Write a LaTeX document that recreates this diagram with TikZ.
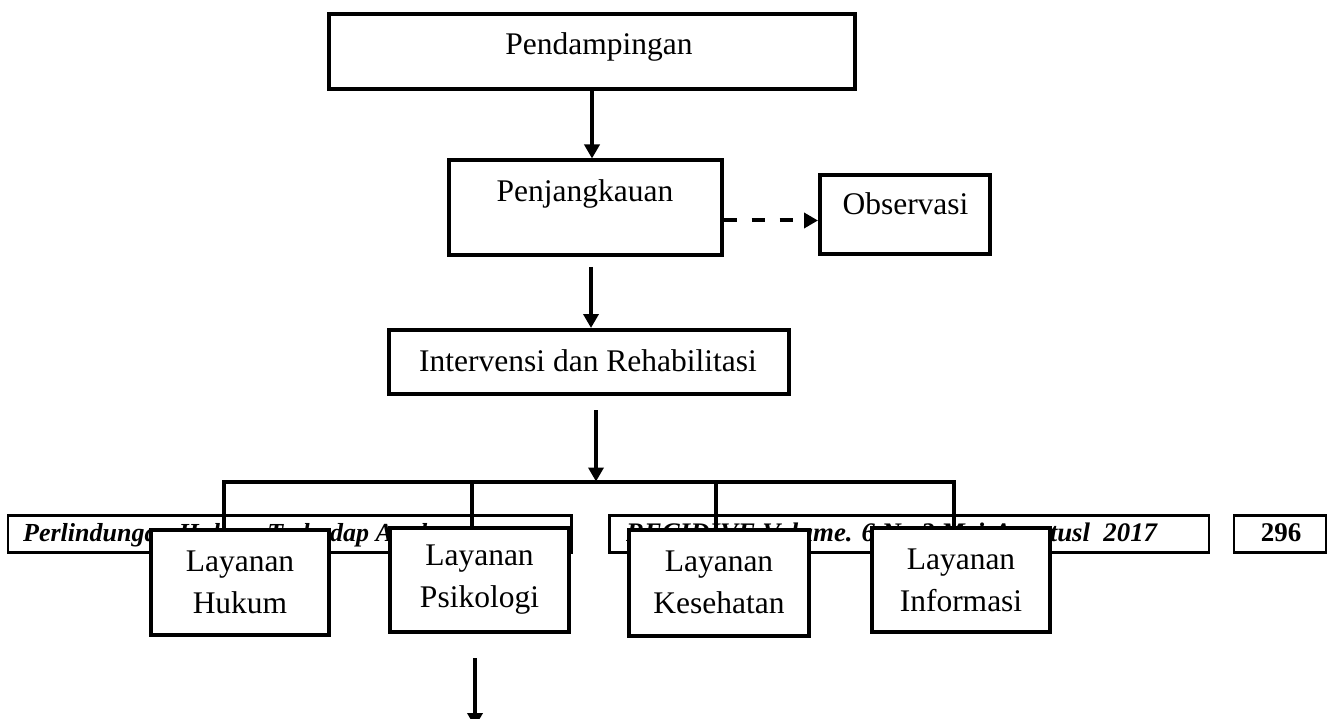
\documentclass[tikz,border=0pt]{standalone}
\usepackage{fontspec}
\setmainfont{Liberation Serif}
\usetikzlibrary{arrows.meta}
\newcommand{\mainsz}{\fontsize{31.5}{42}\selectfont}
\newcommand{\footsz}{\fontsize{26}{30}\selectfont\bfseries\itshape}
\newcommand{\footszb}{\fontsize{26.8}{30}\selectfont\bfseries\itshape}
\begin{document}
\begin{tikzpicture}[x=1pt,y=-1pt,
  box/.style={draw, line width=4pt, fill=white, inner sep=0pt},
  lbl/.style={font=\mainsz, anchor=base, inner sep=0pt},
  conn/.style={line width=4pt},
  arr/.style={conn, -{Triangle[length=14pt,width=15pt]}},
  dasharr/.style={arr, dash pattern=on 13pt off 15pt},
  footbox/.style={draw, line width=2.5pt, inner sep=0pt},
  foottext/.style={font=\footsz, anchor=base west, inner sep=0pt},
]
\fill[white] (0,0) rectangle (1338,719);
\useasboundingbox (0,0) rectangle (1338,719);
\clip (0,0) rectangle (1338,719);

% footer
\node[footbox, minimum width=563.5pt, minimum height=37pt] (f1) at (289.75,534) {};
\node[footbox, minimum width=599.5pt, minimum height=37pt] (f2) at (909.25,534) {};
\node[footbox, minimum width=92pt, minimum height=37pt] (f3) at (1280,534) {};
\node[foottext] (f1t) at (23,541) {Perlindungan Hukum Terhadap Anak};
\node[foottext, font=\footszb] (f2t) at (626,541) {RECIDIVE Volume. 6 No.3 Mei-Agustusl\ \ 2017};
\node[font=\fontsize{27}{30}\selectfont\bfseries, anchor=base, inner sep=0pt] (f3t) at (1281,541) {296};

% main boxes
\node[box, minimum width=526pt, minimum height=75pt] (pend) at (592,52) {};
\node[lbl] (pendt) at (599,55) {Pendampingan};
\node[box, minimum width=273pt, minimum height=94.5pt] (penj) at (585,207.75) {};
\node[lbl] (penjt) at (585,202) {Penjangkauan};
\node[box, minimum width=170pt, minimum height=78.5pt] (obs) at (905,214.75) {};
\node[lbl] (obst) at (905.5,215) {Observasi};
\node[box, minimum width=399.5pt, minimum height=64pt] (interv) at (588.75,362) {};
\node[lbl] (intervt) at (588,371) {Intervensi dan Rehabilitasi};

% connectors top
\draw[arr] (pend.south) -- (penj.north -| pend.south);
\coordinate (dy) at (0,220.5);
\draw[dasharr] (penj.east |- dy) -- (obs.west |- dy);
\coordinate (s2) at (591,267);
\draw[arr] (s2) -- (s2 |- interv.north);
\coordinate (s3) at (596,410);
\coordinate (br) at (596,481.5);
\draw[arr] (s3) -- (br);

% branch coordinates
\coordinate (b1) at (224,481.5);
\coordinate (b2) at (472,481.5);
\coordinate (b3) at (716,481.5);
\coordinate (b4) at (953.5,481.5);

% layanan boxes
\node[box, minimum width=178pt, minimum height=105pt, align=center, font=\mainsz] (hukum) at (240,582.5) {Layanan\\Hukum};
\node[box, minimum width=179pt, minimum height=104pt, align=center, font=\mainsz] (psik) at (479.5,580) {Layanan\\Psikologi};
\node[box, minimum width=180pt, minimum height=105.5pt, align=center, font=\mainsz] (kes) at (719,582.75) {Layanan\\Kesehatan};
\node[box, minimum width=178pt, minimum height=104pt, align=center, font=\mainsz] (info) at (961,580) {Layanan\\Informasi};

\draw[conn] (b1 |- hukum.north) -- (b1) -- (b4) -- (b4 |- info.north);
\draw[conn] (b2) -- (b2 |- psik.north);
\draw[conn] (b3) -- (b3 |- kes.north);

% bottom arrow
\coordinate (s5) at (475,658);
\coordinate (e5) at (475,727);
\draw[arr] (s5) -- (e5);
\end{tikzpicture}
\end{document}
